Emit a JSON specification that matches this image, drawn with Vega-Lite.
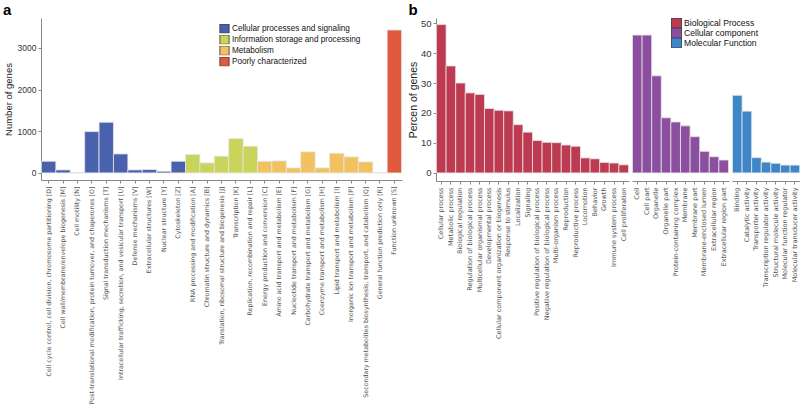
{
  "$schema": "https://vega.github.io/schema/vega-lite/v6.json",
  "padding": {"left": 3, "top": 3, "right": 2, "bottom": 0},
  "background": "white",
  "config": {
    "view": {"stroke": null},
    "axis": {"domainColor": "#888", "tickColor": "#888", "grid": false, "labelFont": "Liberation Sans", "titleFont": "Liberation Sans", "titleFontWeight": "normal", "titleColor": "#222", "labelColor": "#333"},
    "legend": {"labelFont": "Liberation Sans", "labelColor": "#111"}
  },
  "spacing": 6,
  "resolve": {"scale": {"color": "independent"}},
  "hconcat": [
    {
      "title": {"text": "a", "anchor": "start", "frame": "bounds", "fontSize": 15, "fontWeight": "bold", "font": "Liberation Sans", "offset": 0},
      "data": {"values": [
        {"cat": "Cell cycle control, cell division, chromosome partitioning [D]", "n": 280, "group": "Cellular processes and signaling"},
        {"cat": "Cell wall/membrane/envelope biogenesis [M]", "n": 72, "group": "Cellular processes and signaling"},
        {"cat": "Cell motility [N]", "n": 8, "group": "Cellular processes and signaling"},
        {"cat": "Post-translational modification, protein turnover, and chaperones [O]", "n": 992, "group": "Cellular processes and signaling"},
        {"cat": "Signal transduction mechanisms [T]", "n": 1216, "group": "Cellular processes and signaling"},
        {"cat": "Intracellular trafficking, secretion, and vesicular transport [U]", "n": 456, "group": "Cellular processes and signaling"},
        {"cat": "Defense mechanisms [V]", "n": 72, "group": "Cellular processes and signaling"},
        {"cat": "Extracellular structures [W]", "n": 80, "group": "Cellular processes and signaling"},
        {"cat": "Nuclear structure [Y]", "n": 40, "group": "Cellular processes and signaling"},
        {"cat": "Cytoskeleton [Z]", "n": 280, "group": "Cellular processes and signaling"},
        {"cat": "RNA processing and modification [A]", "n": 440, "group": "Information storage and processing"},
        {"cat": "Chromatin structure and dynamics [B]", "n": 240, "group": "Information storage and processing"},
        {"cat": "Translation, ribosomal structure and biogenesis [J]", "n": 400, "group": "Information storage and processing"},
        {"cat": "Transcription [K]", "n": 824, "group": "Information storage and processing"},
        {"cat": "Replication, recombination and repair [L]", "n": 640, "group": "Information storage and processing"},
        {"cat": "Energy production and conversion [C]", "n": 280, "group": "Metabolism"},
        {"cat": "Amino acid transport and metabolism [E]", "n": 288, "group": "Metabolism"},
        {"cat": "Nucleotide transport and metabolism [F]", "n": 120, "group": "Metabolism"},
        {"cat": "Carbohydrate transport and metabolism [G]", "n": 504, "group": "Metabolism"},
        {"cat": "Coenzyme transport and metabolism [H]", "n": 120, "group": "Metabolism"},
        {"cat": "Lipid transport and metabolism [I]", "n": 472, "group": "Metabolism"},
        {"cat": "Inorganic ion transport and metabolism [P]", "n": 384, "group": "Metabolism"},
        {"cat": "Secondary metabolites biosynthesis, transport, and catabolism [Q]", "n": 264, "group": "Metabolism"},
        {"cat": "General function prediction only [R]", "n": 3, "group": "Poorly characterized"},
        {"cat": "Function unknown [S]", "n": 3432, "group": "Poorly characterized"}
      ]},
      "width": 361,
      "height": 162,
      "mark": {"type": "bar", "stroke": "#e4e4e4", "strokeWidth": 0.8},
      "encoding": {
        "x": {"field": "cat", "type": "nominal", "sort": null, "scale": {"paddingInner": 0, "paddingOuter": 0.03},
              "axis": {"title": null, "labelAngle": -90, "labelFont": "DejaVu Sans", "labelFontSize": 6.3, "labelColor": "#555", "labelLimit": 400, "tickSize": 3, "labelPadding": 3}},
        "y": {"field": "n", "type": "quantitative", "scale": {"domain": [-170, 3720], "nice": false, "zero": false},
              "axis": {"title": "Number of genes", "format": "d", "values": [0, 1000, 2000, 3000], "labelFontSize": 8.5, "titleFontSize": 9.5, "tickSize": 3, "titlePadding": 4}},
        "y2": {"datum": 0},
        "color": {"field": "group", "type": "nominal",
                  "scale": {"domain": ["Cellular processes and signaling", "Information storage and processing", "Metabolism", "Poorly characterized"], "range": ["#4a62ae", "#c9d45a", "#f3c260", "#e05b3e"]},
                  "legend": {"title": null, "orient": "none", "legendX": 178, "legendY": 6, "symbolType": "square", "symbolSize": 86, "symbolStrokeColor": "#333", "symbolStrokeWidth": 0.8, "symbolOpacity": 1, "rowPadding": 0, "clipHeight": 9.3, "labelFontSize": 8.2, "labelOffset": 2, "padding": 0, "offset": 0}}
      }
    },
    {
      "title": {"text": "b", "anchor": "start", "frame": "bounds", "fontSize": 15, "fontWeight": "bold", "font": "Liberation Sans", "offset": 0},
      "data": {"values": [
        {"term": "Cellular process", "p": 49.5, "ont": "Biological Process"},
        {"term": "Metabolic process", "p": 35.7, "ont": "Biological Process"},
        {"term": "Biological regulation", "p": 30.0, "ont": "Biological Process"},
        {"term": "Regulation of biological process", "p": 26.7, "ont": "Biological Process"},
        {"term": "Multicellular organismal process", "p": 26.2, "ont": "Biological Process"},
        {"term": "Developmental process", "p": 21.5, "ont": "Biological Process"},
        {"term": "Cellular component organization or biogenesis", "p": 20.9, "ont": "Biological Process"},
        {"term": "Response to stimulus", "p": 20.7, "ont": "Biological Process"},
        {"term": "Localization", "p": 16.1, "ont": "Biological Process"},
        {"term": "Signaling", "p": 13.6, "ont": "Biological Process"},
        {"term": "Positive regulation of biological process", "p": 10.8, "ont": "Biological Process"},
        {"term": "Negative regulation of biological process", "p": 10.2, "ont": "Biological Process"},
        {"term": "Multi-organism process", "p": 10.1, "ont": "Biological Process"},
        {"term": "Reproduction", "p": 9.3, "ont": "Biological Process"},
        {"term": "Reproductive process", "p": 8.9, "ont": "Biological Process"},
        {"term": "Locomotion", "p": 5.0, "ont": "Biological Process"},
        {"term": "Behavior", "p": 4.7, "ont": "Biological Process"},
        {"term": "Growth", "p": 3.5, "ont": "Biological Process"},
        {"term": "Immune system process", "p": 3.3, "ont": "Biological Process"},
        {"term": "Cell proliferation", "p": 2.7, "ont": "Biological Process"},
        {"term": "Cell", "p": 46.0, "ont": "Cellular component"},
        {"term": "Cell part", "p": 46.0, "ont": "Cellular component"},
        {"term": "Organelle", "p": 32.4, "ont": "Cellular component"},
        {"term": "Organelle part", "p": 18.4, "ont": "Cellular component"},
        {"term": "Protein-containing complex", "p": 17.0, "ont": "Cellular component"},
        {"term": "Membrane", "p": 15.7, "ont": "Cellular component"},
        {"term": "Membrane part", "p": 12.1, "ont": "Cellular component"},
        {"term": "Membrane-enclosed lumen", "p": 7.2, "ont": "Cellular component"},
        {"term": "Extracellular region", "p": 5.4, "ont": "Cellular component"},
        {"term": "Extracellular region part", "p": 4.3, "ont": "Cellular component"},
        {"term": "Binding", "p": 25.9, "ont": "Molecular Function"},
        {"term": "Catalytic activity", "p": 20.6, "ont": "Molecular Function"},
        {"term": "Transporter activity", "p": 5.1, "ont": "Molecular Function"},
        {"term": "Transcription regulator activity", "p": 3.6, "ont": "Molecular Function"},
        {"term": "Structural molecule activity", "p": 3.2, "ont": "Molecular Function"},
        {"term": "Molecular function regulator", "p": 2.6, "ont": "Molecular Function"},
        {"term": "Molecular transducer activity", "p": 2.6, "ont": "Molecular Function"}
      ]},
      "facet": {"column": {"field": "ont", "type": "nominal", "sort": ["Biological Process", "Cellular component", "Molecular Function"], "header": {"title": null, "labels": false, "labelPadding": 0, "titlePadding": 0}}},
      "spacing": 3,
      "resolve": {"scale": {"x": "independent"}},
      "spec": {
        "width": {"step": 9.6},
        "height": 163,
        "mark": {"type": "bar", "stroke": "#e4e4e4", "strokeWidth": 0.8},
        "encoding": {
          "x": {"field": "term", "type": "nominal", "sort": null, "scale": {"paddingInner": 0, "paddingOuter": 0.05},
                "axis": {"title": null, "labelAngle": -90, "labelFont": "DejaVu Sans", "labelFontSize": 6.5, "labelColor": "#555", "labelLimit": 400, "tickSize": 3, "labelPadding": 3}},
          "y": {"field": "p", "type": "quantitative", "scale": {"domain": [-2.7, 51.7], "nice": false, "zero": false},
                "axis": {"title": "Percen of genes", "values": [0, 10, 20, 30, 40, 50], "labelFontSize": 9.5, "titleFontSize": 10.5, "tickSize": 3, "titlePadding": 2}},
          "y2": {"datum": 0},
          "color": {"field": "ont", "type": "nominal",
                    "scale": {"domain": ["Biological Process", "Cellular component", "Molecular Function"], "range": ["#be3a50", "#8c4f9f", "#3f86c8"]},
                    "legend": {"title": null, "orient": "none", "legendX": 235, "legendY": 0, "symbolType": "square", "symbolSize": 100, "symbolStrokeColor": "#333", "symbolStrokeWidth": 0.8, "symbolOpacity": 1, "rowPadding": 0, "clipHeight": 10, "labelFontSize": 8.6, "labelOffset": 2, "padding": 0, "offset": 0}}
        }
      }
    }
  ]
}
